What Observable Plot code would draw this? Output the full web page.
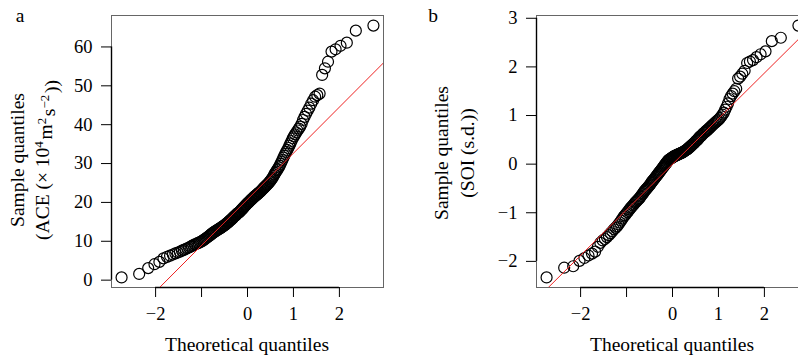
<!DOCTYPE html>
<html><head><meta charset="utf-8">
<script src="https://cdn.jsdelivr.net/npm/d3@7"></script>
<script src="https://cdn.jsdelivr.net/npm/@observablehq/plot@0.6"></script>
<style>
html,body{margin:0;padding:0;background:#fff;}
#wrap{position:relative;width:798px;height:356px;overflow:hidden;background:#fff;}
#pa{position:absolute;left:0;top:0;width:400px;height:356px;}
#pb{position:absolute;left:400px;top:0;width:425px;height:356px;}
#wrap svg{max-width:none !important;}
</style></head><body><div id="wrap"><div id="pa"></div><div id="pb"></div></div>
<script>
// Sample values (sorted)
const aceSample = [0.7,1.6,3.1,4.1,4.7,5.6,6.0,6.3,6.6,6.9,7.1,7.3,7.6,7.8,8.0,8.2,8.4,8.6,8.8,9.0,9.2,9.3,9.5,9.6,9.8,9.9,
10.1,10.3,10.5,10.7,10.9,11.1,11.3,11.5,11.7,
11.9,12.1,12.3,12.4,12.6,12.7,12.9,13.0,13.2,13.3,
13.4,13.6,13.7,13.9,14.0,14.2,14.3,14.5,14.7,14.8,15.0,
15.2,15.4,15.5,15.7,15.9,16.1,16.3,16.5,16.6,16.8,17.0,17.2,17.3,
17.4,17.6,17.8,18.0,18.2,18.4,18.6,18.8,19.0,19.2,19.4,19.6,19.8,
19.9,20.1,20.3,20.5,20.7,20.8,21.0,21.2,21.4,21.5,21.7,21.8,22.0,
22.1,22.3,22.5,22.6,22.8,23.0,23.2,23.4,23.6,23.8,24.0,24.2,
24.4,24.6,24.8,25.0,25.3,25.5,25.8,26.1,26.4,26.8,27.2,
27.6,27.9,28.3,28.6,29.0,29.4,29.9,30.4,30.9,31.5,
32.0,32.5,33.0,33.5,34.0,34.6,35.2,35.8,36.5,
37.0,37.5,38.0,38.5,39.0,39.5,40.2,
41.2,42.0,42.8,43.6,44.4,45.4,
46.3,47.2,47.6,48.0,52.8,54.5,56.2,58.8,59.4,60.3,61.1,64.2,65.5];

const soiSample = [-2.33,-2.13,-2.10,-1.99,-1.93,-1.88,-1.84,-1.80,-1.70,-1.62,-1.57,-1.54,-1.50,-1.46,-1.42,-1.38,-1.34,-1.31,-1.28,-1.24,-1.20,-1.16,-1.12,-1.08,-1.05,-1.02,
-0.99,-0.96,-0.93,-0.90,-0.88,-0.85,-0.83,-0.80,-0.78,
-0.76,-0.74,-0.72,-0.70,-0.67,-0.65,-0.62,-0.60,-0.57,-0.55,
-0.53,-0.51,-0.49,-0.47,-0.45,-0.43,-0.41,-0.38,-0.36,-0.34,-0.32,
-0.30,-0.28,-0.26,-0.24,-0.22,-0.20,-0.18,-0.16,-0.14,-0.12,-0.10,-0.08,-0.06,
-0.04,-0.02,0.00,0.02,0.04,0.06,0.08,0.09,0.10,0.11,0.12,0.13,0.14,
0.15,0.16,0.17,0.17,0.18,0.19,0.19,0.20,0.21,0.21,0.22,0.23,0.23,
0.24,0.25,0.26,0.27,0.28,0.29,0.30,0.31,0.33,0.34,0.35,0.37,
0.38,0.40,0.41,0.43,0.44,0.46,0.48,0.49,0.51,0.53,0.55,
0.57,0.58,0.60,0.62,0.64,0.65,0.67,0.69,0.70,0.72,
0.74,0.76,0.78,0.80,0.82,0.84,0.86,0.88,0.90,
0.92,0.95,0.98,1.02,1.06,1.12,1.18,1.25,1.34,1.40,1.45,1.50,1.55,1.76,1.80,1.86,1.92,2.08,2.11,2.14,2.20,2.26,2.32,2.53,2.60,2.85];

const xTicks = [-2, -1, 0, 1, 2];
const xTickLabels = ["−2", "", "0", "1", "2"];
const aceTicks = [0, 10, 20, 30, 40, 50, 60];
const soiTicks = [-2, -1, 0, 1, 2, 3];
const panelLetters = ["a", "b"];
const xLabel = "Theoretical quantiles";
const yLabel1 = "Sample quantiles";

// inverse normal CDF (Acklam)
function qnorm(p){
  const a=[-3.969683028665376e+01,2.209460984245205e+02,-2.759285104469687e+02,1.383577518672690e+02,-3.066479806614716e+01,2.506628277459239e+00];
  const b=[-5.447609879822406e+01,1.615858368580409e+02,-1.556989798598866e+02,6.680131188771972e+01,-1.328068155288572e+01];
  const c=[-7.784894002430293e-03,-3.223964580411365e-01,-2.400758277161838e+00,-2.549732539343734e+00,4.374664141464968e+00,2.938163982698783e+00];
  const d=[7.784695709041462e-03,3.224671290700398e-01,2.445134137142996e+00,3.754408661907416e+00];
  const pl=0.02425, ph=1-pl; let q, r;
  if(p<pl){q=Math.sqrt(-2*Math.log(p));return (((((c[0]*q+c[1])*q+c[2])*q+c[3])*q+c[4])*q+c[5])/((((d[0]*q+d[1])*q+d[2])*q+d[3])*q+1);}
  if(p<=ph){q=p-0.5;r=q*q;return (((((a[0]*r+a[1])*r+a[2])*r+a[3])*r+a[4])*r+a[5])*q/(((((b[0]*r+b[1])*r+b[2])*r+b[3])*r+b[4])*r+1);}
  q=Math.sqrt(-2*Math.log(1-p));return -(((((c[0]*q+c[1])*q+c[2])*q+c[3])*q+c[4])*q+c[5])/((((d[0]*q+d[1])*q+d[2])*q+d[3])*q+1);
}
const ext = r => { const e = (r[1]-r[0])*0.04; return [r[0]-e, r[1]+e]; };
const FONT = "'Liberation Serif', 'DejaVu Serif', serif";
const TITLE_SIZE = 19.5;

function panel(sample, yTicks, cfg){
  const sorted = sample.slice().sort((a,b)=>a-b);
  const n = sorted.length;
  const pts = sorted.map((v,i)=>({x: qnorm((i+0.5)/n), y: v}));
  const xd = ext(d3.extent(pts, d=>d.x));
  const yd = ext(d3.extent(sorted));
  const q1 = d3.quantile(sorted, 0.25), q3 = d3.quantile(sorted, 0.75);
  const z1 = qnorm(0.25), z3 = qnorm(0.75);
  const slope = (q3-q1)/(z3-z1), icpt = q1 - slope*z1;
  const lineData = xd.map(x=>({x, y: icpt + slope*x}));
  const svg = Plot.plot({
    width: cfg.width, height: 356,
    marginLeft: cfg.ml, marginRight: 17, marginTop: 15, marginBottom: 69,
    style: {fontFamily: FONT, fontSize: "18px", color: "#000", background: "#fff", maxWidth: "none"},
    x: {domain: xd},
    y: {domain: yd},
    marks: [
      Plot.frame({stroke: "#666", strokeWidth: 1}),
      Plot.ruleY([yd[0]], {x1: xTicks[0], x2: xTicks[xTicks.length-1], stroke: "#000", strokeWidth: 1.4}),
      Plot.ruleX([xd[0]], {y1: yTicks[0], y2: yTicks[yTicks.length-1], stroke: "#000", strokeWidth: 1.4}),
      Plot.axisX({ticks: xTicks, tickFormat: d => xTickLabels[xTicks.indexOf(d)], tickSize: 10, tickPadding: 9, label: null, fontSize: 18.5}),
      Plot.axisY({ticks: yTicks, tickFormat: d => d < 0 ? "−" + Math.abs(d) : String(d), tickSize: 10, tickPadding: 9, label: null, fontSize: 18.5}),
      Plot.dot(pts, {x: "x", y: "y", r: 5.5, stroke: "#000", strokeWidth: 1.2, fill: "none"}),
      Plot.line(lineData, {x: "x", y: "y", stroke: "#ee2222", strokeWidth: 1, clip: true})
    ]
  });
  svg.style.maxWidth = "none";
  const s = d3.select(svg);
  const cx = cfg.ml + (cfg.width - cfg.ml - 17)/2;
  s.append("text").attr("x", cfg.letterX).attr("y", 22).attr("font-size", TITLE_SIZE).attr("font-family", FONT).text(cfg.letter);
  s.append("text").attr("x", cx).attr("y", 351).attr("text-anchor", "middle").attr("font-size", TITLE_SIZE).attr("font-family", FONT).text(xLabel);
  s.append("text").attr("transform", `translate(${cfg.l1x},${cfg.ly}) rotate(-90)`).attr("text-anchor", "middle").attr("font-size", TITLE_SIZE).attr("font-family", FONT).text(yLabel1);
  const t2 = s.append("text").attr("transform", `translate(${cfg.l2x},${cfg.ly}) rotate(-90)`).attr("text-anchor", "middle").attr("font-size", TITLE_SIZE).attr("font-family", FONT);
  cfg.label2.forEach(([txt, sup]) => {
    if (sup) {
      t2.append("tspan").attr("dy", "-0.45em").attr("font-size", 13).text(txt);
      t2.append("tspan").attr("dy", "0.45em").text("\u200A");
    } else t2.append("tspan").text(txt);
  });
  return svg;
}

document.getElementById("pa").appendChild(panel(aceSample, aceTicks, {
  width: 400, ml: 111, letter: panelLetters[0], letterX: 20, l1x: 24, l2x: 49, ly: 160,
  label2: [["(ACE (× 10", false], ["4", true], ["m", false], ["2", true], ["s", false], ["−2", true], ["))", false]]
}));
document.getElementById("pb").appendChild(panel(soiSample, soiTicks, {
  width: 425, ml: 136, letter: panelLetters[1], letterX: 33, l1x: 48, l2x: 74, ly: 153,
  label2: [["(SOI (s.d.))", false]]
}));
</script></body></html>
